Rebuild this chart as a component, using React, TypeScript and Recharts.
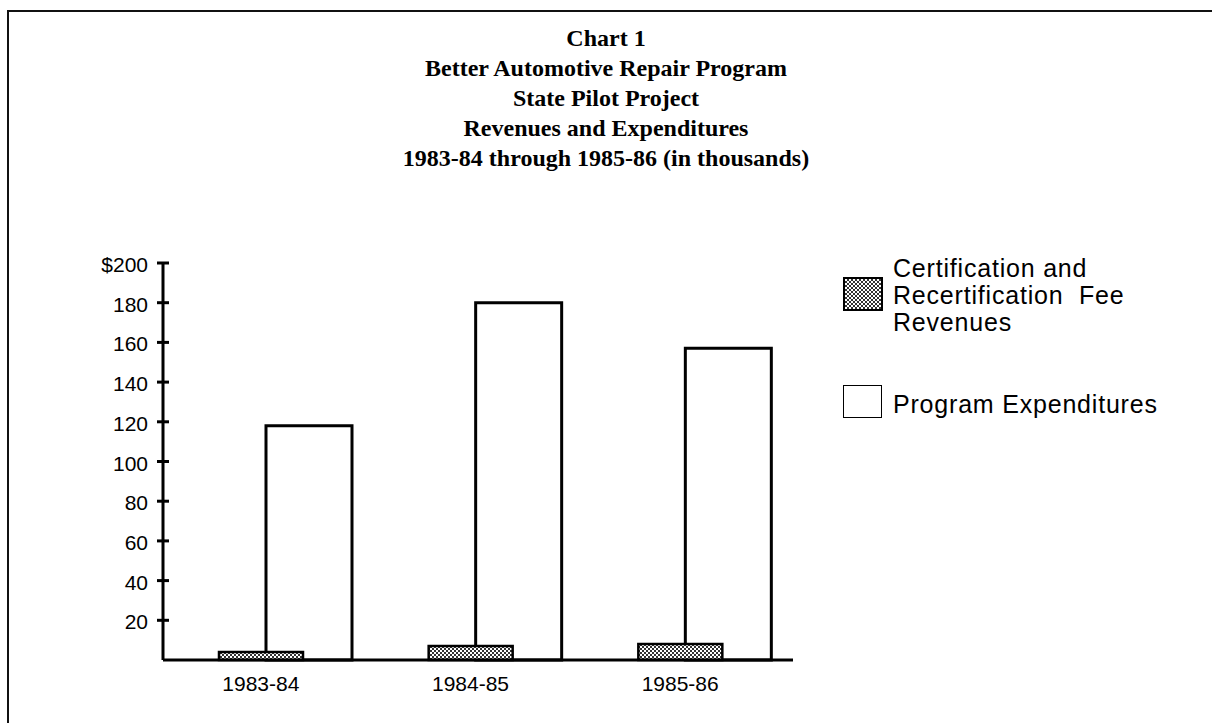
import { BarChart, Bar, XAxis, YAxis } from 'recharts';

const years = ['1983-84', '1984-85', '1985-86'];
const feeRevenues = [4, 7, 8];
const expenditures = [118, 180, 157];
const yTicks = [20, 40, 60, 80, 100, 120, 140, 160, 180, 200];

const titleLines = [
  'Chart 1',
  'Better Automotive Repair Program',
  'State Pilot Project',
  'Revenues and Expenditures',
  '1983-84 through 1985-86 (in thousands)',
];

const data = years.map((year, i) => ({
  year,
  fees: feeRevenues[i],
  expend: expenditures[i],
}));

const sans = '"Liberation Sans", Arial, Helvetica, sans-serif';

// tick marks cross the axis on both sides, like the original
const YTick = (props: any) => {
  const { x, y, payload } = props;
  const label = payload.value === 200 ? '$200' : String(payload.value);
  return (
    <g>
      <line x1={x - 6} x2={x + 6} y1={y} y2={y} stroke="#000" strokeWidth={3} />
      <text x={x - 15} y={y + 9} textAnchor="end" fontFamily={sans} fontSize={21} fill="#000">
        {label}
      </text>
    </g>
  );
};

const XTick = (props: any) => {
  const { x, y, payload } = props;
  return (
    <text x={x} y={y + 31} textAnchor="middle" fontFamily={sans} fontSize={21} fill="#000">
      {payload.value}
    </text>
  );
};

const dither = 'repeating-conic-gradient(#333 0 25%, #fff 0 50%) 0 0 / 4px 4px';

const legendText = {
  position: 'absolute' as const,
  left: 893,
  fontFamily: sans,
  fontSize: 25,
  letterSpacing: 0.8,
  lineHeight: '27px',
  color: '#000',
  whiteSpace: 'pre' as const,
};

export default function App() {
  return (
    <div
      style={{
        position: 'fixed',
        left: 0,
        top: 0,
        width: 1212,
        height: 723,
        overflow: 'hidden',
        background: '#fff',
      }}
    >
      <div
        style={{
          position: 'absolute',
          left: 7,
          top: 10,
          width: 1230,
          height: 740,
          border: '2px solid #111',
        }}
      />
      <div
        style={{
          position: 'absolute',
          left: 0,
          top: 23,
          width: 1212,
          textAlign: 'center',
          fontFamily: '"Liberation Serif", "Times New Roman", serif',
          fontWeight: 'bold',
          fontSize: 24,
          lineHeight: '30px',
          color: '#000',
        }}
      >
        {titleLines.map((t) => (
          <div key={t}>{t}</div>
        ))}
      </div>

      <div style={{ position: 'absolute', left: 0, top: 0 }}>
        <BarChart
          width={1212}
          height={723}
          data={data}
          margin={{ top: 263, left: 103, right: 419, bottom: 23 }}
        >
          <defs>
            <pattern id="dither" width="4" height="4" patternUnits="userSpaceOnUse">
              <rect width="4" height="4" fill="#fff" />
              <rect width="2" height="2" fill="#333" />
              <rect x="2" y="2" width="2" height="2" fill="#333" />
            </pattern>
          </defs>
          <XAxis
            xAxisId="g"
            dataKey="year"
            height={40}
            padding={{ left: -7, right: 8 }}
            axisLine={{ stroke: '#000', strokeWidth: 3 }}
            tickLine={false}
            tickSize={0}
            tickMargin={0}
            tick={<XTick />}
            interval={0}
          />
          <XAxis xAxisId="w" dataKey="year" hide padding={{ left: 41, right: -40 }} />
          <YAxis
            width={60}
            domain={[0, 200]}
            ticks={yTicks}
            interval={0}
            axisLine={{ stroke: '#000', strokeWidth: 3 }}
            tickLine={false}
            tickSize={0}
            tickMargin={0}
            tick={<YTick />}
          />
          <Bar
            xAxisId="w"
            dataKey="expend"
            name="Program Expenditures"
            fill="#fff"
            stroke="#000"
            strokeWidth={3}
            barSize={86}
            isAnimationActive={false}
          />
          <Bar
            xAxisId="g"
            dataKey="fees"
            name="Certification and Recertification Fee Revenues"
            fill="url(#dither)"
            stroke="#000"
            strokeWidth={2.5}
            barSize={84}
            isAnimationActive={false}
          />
        </BarChart>
      </div>

      {/* legend */}
      <div
        style={{
          position: 'absolute',
          left: 843,
          top: 277,
          width: 36,
          height: 30,
          border: '2px solid #000',
          background: dither,
        }}
      />
      <div style={{ ...legendText, top: 255 }}>
        <div>Certification and</div>
        <div>Recertification  Fee</div>
        <div>Revenues</div>
      </div>
      <div
        style={{
          position: 'absolute',
          left: 843,
          top: 385,
          width: 37,
          height: 31,
          border: '1.5px solid #000',
          background: '#fff',
        }}
      />
      <div style={{ ...legendText, top: 391 }}>Program Expenditures</div>
    </div>
  );
}
